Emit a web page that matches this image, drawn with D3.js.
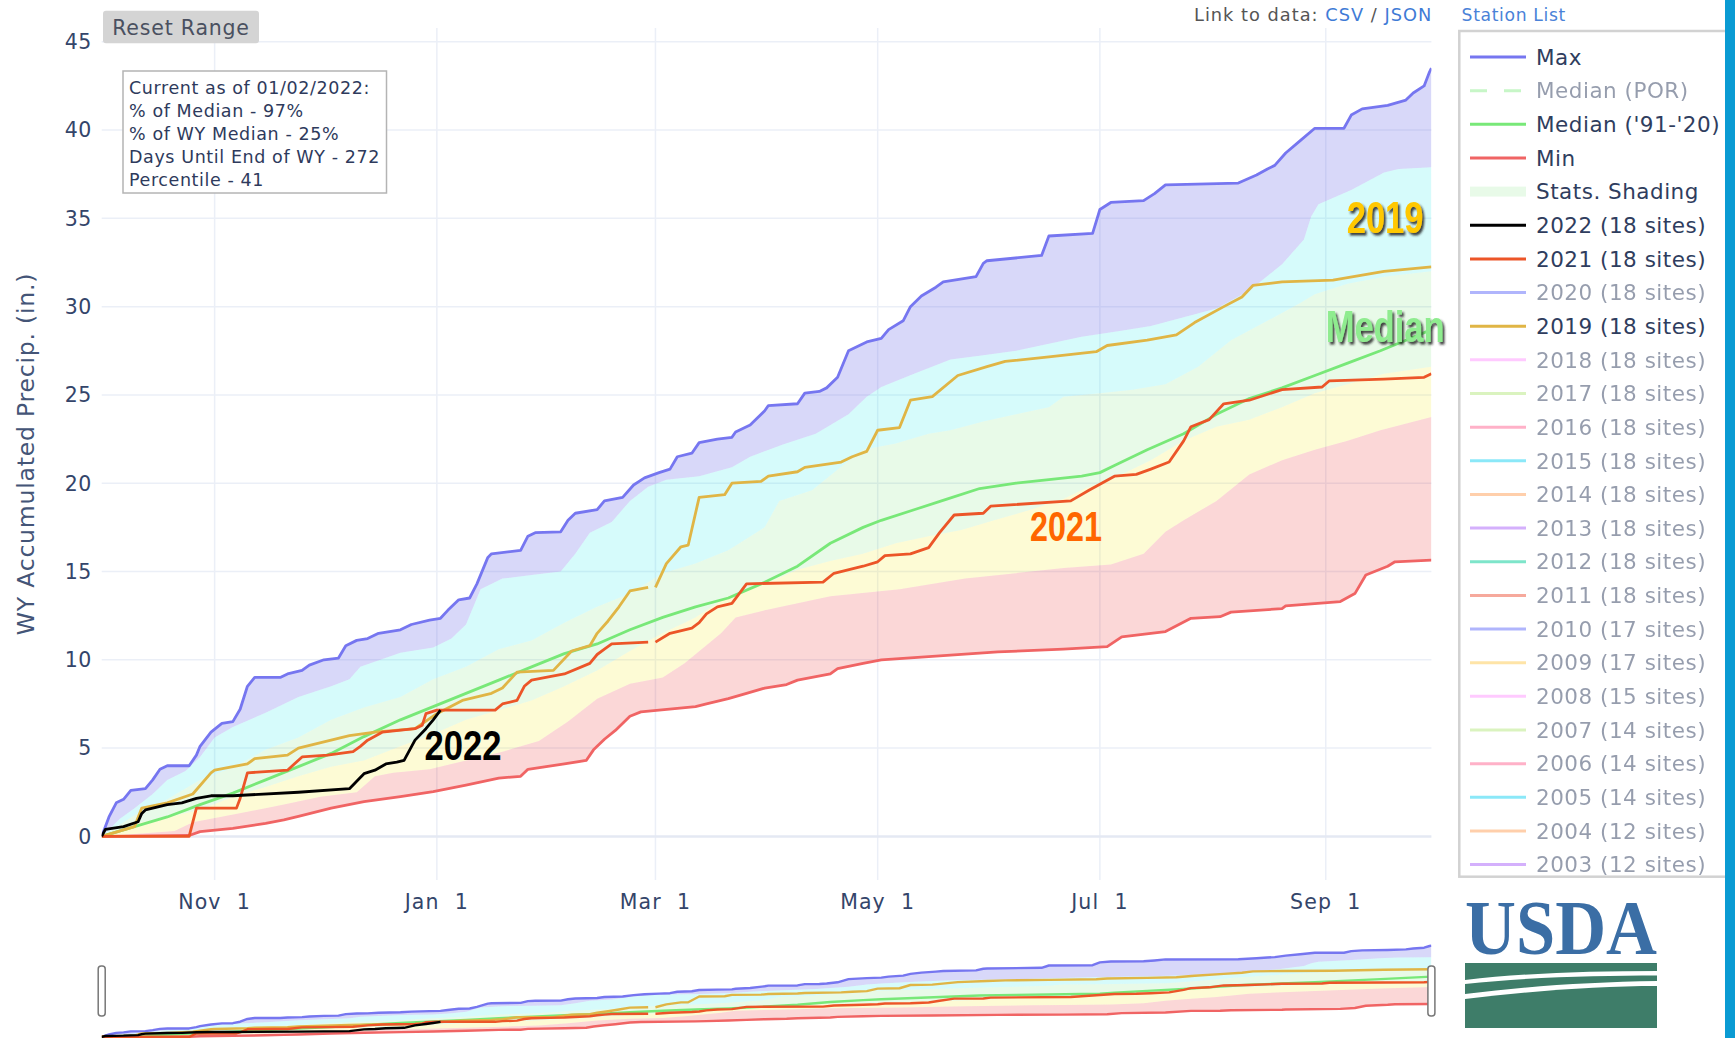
<!DOCTYPE html>
<html>
<head>
<meta charset="utf-8">
<script src="https://cdn.jsdelivr.net/npm/d3@7.9.0/dist/d3.min.js"></script>
<style>
  body { margin: 0; background: #fff; }
  svg text { font-family: "DejaVu Sans", Verdana, sans-serif; }
</style>
</head>
<body>
<svg id="chart" width="1735" height="1038"></svg>
<script>
// values are [day since Oct 1, inches]; the axis year is a leap water year, so day 151 = Feb 29
const maxPrecip = [[0,0],[2,1.1],[4,1.9],[6,2.1],[8,2.6],[12,2.7],[14,3.2],[16,3.8],[18,4.0],[24,4.0],[26,4.6],[27,5.1],[30,5.9],[33,6.4],[36,6.5],[38,7.2],[40,8.5],[42,9.0],[49,9.0],[51,9.2],[55,9.4],[57,9.7],[61,10.0],[65,10.1],[67,10.8],[70,11.1],[73,11.2],[76,11.5],[82,11.7],[85,12.0],[90,12.25],[93,12.35],[95,12.8],[98,13.4],[101,13.5],[103,14.3],[106,15.8],[107,16.0],[115,16.2],[117,17.0],[119,17.2],[126,17.25],[128,17.9],[130,18.3],[136,18.5],[138,19.0],[143,19.2],[146,19.9],[149,20.3],[153,20.6],[156,20.8],[158,21.5],[162,21.7],[164,22.3],[169,22.5],[173,22.6],[174,22.9],[178,23.3],[182,24.1],[183,24.4],[191,24.5],[193,25.1],[197,25.2],[199,25.4],[202,26.0],[205,27.5],[210,28.0],[214,28.2],[216,28.7],[220,29.2],[222,30.0],[225,30.6],[229,31.1],[231,31.4],[240,31.7],[242,32.45],[243,32.6],[258,32.9],[260,34.0],[272,34.15],[274,35.5],[277,35.9],[286,36.0],[289,36.4],[292,36.9],[312,37.0],[317,37.45],[320,37.8],[322,38.0],[325,38.7],[329,39.4],[333,40.1],[341,40.1],[343,40.85],[346,41.2],[353,41.4],[358,41.7],[360,42.1],[363,42.5],[364.5,43.3],[365,43.5]];
const p90 = [[0,0],[5,1.0],[9,1.6],[14,2.4],[18,3.2],[23,3.7],[27,4.5],[31,5.6],[36,6.2],[45,7.0],[54,7.9],[63,8.5],[68,8.9],[71,9.6],[82,10.4],[91,10.7],[96,11.2],[100,12.0],[104,14.0],[110,14.6],[118,14.8],[126,15.0],[130,16.0],[134,17.2],[140,17.8],[145,19.0],[150,19.8],[155,20.2],[164,20.4],[173,20.9],[178,21.5],[187,22.2],[196,22.8],[205,23.9],[210,24.9],[214,25.45],[223,26.2],[233,27.0],[242,27.25],[251,27.5],[260,27.9],[269,28.3],[279,28.6],[288,28.9],[297,29.4],[306,29.9],[315,30.9],[324,32.4],[330,33.8],[332,35.1],[334,35.8],[343,36.6],[352,37.6],[356,37.8],[365,37.9]];
const p70 = [[0,0],[9,1.2],[18,2.1],[27,3.2],[36,3.9],[45,4.9],[54,5.6],[63,6.6],[72,7.3],[82,7.9],[91,8.9],[100,9.6],[109,10.6],[118,11.1],[127,12.1],[136,13.0],[145,13.75],[154,14.9],[163,15.45],[172,16.2],[182,17.5],[186,19.0],[195,19.6],[204,21.1],[209,21.9],[218,22.25],[227,22.8],[233,23.0],[242,23.5],[251,23.9],[260,24.3],[264,24.9],[274,25.1],[283,25.3],[292,25.6],[301,26.6],[310,28.1],[320,29.2],[329,30.2],[333,30.7],[342,31.3],[352,31.7],[365,32.0]];
const p30 = [[0,0],[9,0.7],[18,1.1],[27,1.5],[36,2.25],[45,2.8],[54,3.4],[63,3.95],[72,4.3],[82,5.1],[91,5.8],[100,6.6],[109,7.15],[118,7.7],[127,8.5],[136,9.4],[145,10.5],[154,11.5],[163,12.4],[172,13.6],[182,14.3],[191,15.1],[200,15.6],[209,16.0],[218,16.6],[227,17.0],[236,17.35],[245,17.9],[255,18.5],[264,19.1],[270,19.7],[279,20.4],[288,21.3],[297,22.4],[306,23.2],[315,23.6],[324,24.3],[333,25.1],[342,25.6],[352,26.2],[365,26.6]];
const p10 = [[0,0],[10,0.15],[20,0.3],[25,0.8],[30,1.0],[40,1.4],[50,1.8],[60,2.25],[70,2.5],[75,3.4],[80,3.6],[90,3.8],[100,4.3],[110,4.8],[120,5.4],[128,6.5],[136,7.8],[145,8.65],[154,9.0],[160,9.8],[170,11.5],[174,12.4],[182,12.8],[191,13.2],[200,13.6],[219,14.0],[237,14.6],[255,15.0],[264,15.2],[277,15.4],[286,16.0],[292,17.25],[297,17.9],[306,19.0],[315,20.5],[324,21.3],[333,21.9],[342,22.4],[351,23.0],[365,23.75]];
const minPrecip = [[0,0],[24,0.05],[27,0.27],[36,0.45],[45,0.74],[50,0.93],[54,1.13],[63,1.6],[72,1.97],[82,2.25],[91,2.53],[100,2.9],[109,3.3],[115,3.4],[117,3.8],[127,4.1],[133,4.3],[135,4.9],[138,5.5],[141,6.0],[145,6.8],[148,7.05],[163,7.35],[166,7.5],[172,7.8],[177,8.1],[182,8.4],[188,8.6],[191,8.85],[200,9.2],[202,9.5],[209,9.8],[214,10.0],[228,10.2],[246,10.45],[264,10.6],[276,10.75],[280,11.3],[292,11.6],[299,12.35],[307,12.44],[310,12.7],[324,12.9],[325,13.05],[340,13.3],[344,13.75],[347,14.8],[353,15.3],[355,15.55],[365,15.65]];
const median9120 = [[0,0],[9,0.55],[18,1.1],[27,1.8],[36,2.45],[45,3.2],[54,3.95],[63,4.7],[72,5.65],[82,6.6],[91,7.35],[100,8.1],[109,8.85],[118,9.6],[127,10.35],[136,10.9],[145,11.7],[154,12.4],[163,13.0],[172,13.5],[181,14.3],[191,15.3],[200,16.6],[209,17.5],[214,17.9],[223,18.5],[232,19.1],[241,19.7],[251,20.0],[260,20.2],[269,20.4],[274,20.6],[278,21.0],[287,21.9],[297,22.8],[306,23.9],[315,24.8],[324,25.4],[333,26.1],[342,26.8],[351,27.5],[358,28.1],[365,28.7]];
const wy2019 = [[0,0],[9,0.55],[11,1.6],[18,1.9],[25,2.4],[30,3.6],[31,3.75],[40,4.1],[42,4.4],[51,4.6],[54,5.0],[68,5.7],[75,5.9],[86,6.1],[92,6.95],[99,7.7],[107,8.1],[110,8.4],[114,9.3],[124,9.4],[129,10.5],[134,10.8],[136,11.5],[139,12.2],[142,13.0],[145,13.9],[150,14.1],[151,null],[152,14.1],[155,15.45],[159,16.4],[161,16.5],[164,19.2],[171,19.35],[173,20.0],[181,20.1],[183,20.4],[191,20.65],[193,20.9],[203,21.2],[206,21.5],[210,21.8],[213,23.0],[219,23.15],[222,24.7],[228,24.9],[235,26.1],[243,26.6],[248,26.9],[260,27.15],[273,27.45],[276,27.8],[287,28.1],[295,28.4],[300,29.1],[308,30.0],[313,30.55],[316,31.2],[324,31.4],[338,31.5],[352,32.0],[365,32.25]];
const wy2021 = [[0,0],[24,0],[26,1.6],[37,1.6],[38,2.15],[40,3.6],[47,3.7],[51,3.75],[55,4.5],[62,4.6],[69,4.8],[71,5.1],[73,5.45],[77,5.9],[86,6.1],[88,6.3],[89,6.95],[92,7.15],[108,7.15],[110,7.5],[114,7.7],[116,8.5],[118,8.85],[123,9.05],[127,9.2],[134,9.8],[136,10.3],[138,10.6],[140,10.9],[150,11.0],[151,null],[152,11.0],[156,11.5],[162,11.8],[164,12.1],[166,12.6],[169,13.0],[173,13.2],[177,14.3],[198,14.4],[201,14.9],[209,15.3],[213,15.55],[215,15.9],[222,16.0],[227,16.35],[230,17.2],[234,18.2],[242,18.3],[244,18.7],[266,19.0],[271,19.6],[278,20.4],[284,20.5],[288,20.8],[293,21.2],[297,22.4],[299,23.2],[304,23.6],[308,24.5],[315,24.7],[324,25.3],[335,25.45],[337,25.8],[352,25.9],[363,26.0],[365,26.2]];
const wy2022 = [[0,0],[1,0.4],[6,0.55],[10,0.83],[11,1.3],[12,1.5],[18,1.8],[22,1.9],[26,2.15],[30,2.3],[36,2.3],[54,2.5],[68,2.7],[72,3.55],[75,3.75],[78,4.1],[81,4.2],[83,4.3],[86,5.45],[89,6.1],[91,6.6],[93,7.15]];

const yTicks = [0, 5, 10, 15, 20, 25, 30, 35, 40, 45];
const xTickDates = ['2019-11-01', '2020-01-01', '2020-03-01', '2020-05-01', '2020-07-01', '2020-09-01'];

const seasonYears = [2022, 2021, 2020, 2019, 2018, 2017, 2016, 2015, 2014, 2013, 2012, 2011, 2010, 2009, 2008, 2007, 2006, 2005, 2004, 2003];
const siteCounts  = [18, 18, 18, 18, 18, 18, 18, 18, 18, 18, 18, 18, 17, 17, 15, 14, 14, 14, 12, 12];
const yearColors  = ['#000000', '#ec5528', '#636efa', '#e0b545', '#ff97ff', '#b6e880', '#ff6692', '#19d3f3', '#ffa15a', '#ab63fa',
                     '#00cc96', '#ef553b', '#636efa', '#fecb52', '#ff97ff', '#b6e880', '#ff6692', '#19d3f3', '#ffa15a', '#ab63fa'];
const shownYears  = [2022, 2021, 2019];

const infoLines = ['Current as of 01/02/2022:', '% of Median - 97%', '% of WY Median - 25%', 'Days Until End of WY - 272', 'Percentile - 41'];

const svg = d3.select('#chart');
const start = Date.UTC(2019, 9, 1);
const dayToDate = d => new Date(start + d * 864e5);

const x = d3.scaleUtc().domain([dayToDate(0), dayToDate(365)]).range([101.7, 1431.4]);
const y = d3.scaleLinear().domain([-2.47, 45.78]).range([880, 28]);
const ySlider = d3.scaleLinear().domain([-2.47, 45.78]).range([1042, 940.8]);

const defs = svg.append('defs');
defs.append('clipPath').attr('id', 'clipMain').append('rect')
    .attr('x', x.range()[0]).attr('y', 28).attr('width', x.range()[1] - x.range()[0]).attr('height', 852);
defs.append('clipPath').attr('id', 'clipSlider').append('rect')
    .attr('x', x.range()[0]).attr('y', 940).attr('width', x.range()[1] - x.range()[0]).attr('height', 100);
defs.append('filter').attr('id', 'shadow').attr('x', '-10%').attr('y', '-10%').attr('width', '130%').attr('height', '150%')
    .append('feDropShadow').attr('dx', 2).attr('dy', 2.5).attr('stdDeviation', 1.1)
    .attr('flood-color', '#1a1a1a').attr('flood-opacity', 0.85);

// grid
const grid = svg.append('g');
grid.selectAll('.vgrid').data(xTickDates).join('line')
    .attr('x1', d => x(new Date(d))).attr('x2', d => x(new Date(d)))
    .attr('y1', 28).attr('y2', 880)
    .attr('stroke', '#ebeff7').attr('stroke-width', 1.5);
grid.selectAll('.hgrid').data(yTicks).join('line')
    .attr('x1', x.range()[0]).attr('x2', x.range()[1])
    .attr('y1', d => y(d)).attr('y2', d => y(d))
    .attr('stroke', d => d === 0 ? '#e4e9f3' : '#ebeff7').attr('stroke-width', d => d === 0 ? 2.5 : 1.5);

const bands = [
  { upper: maxPrecip, lower: p90, fill: 'rgba(100,100,230,0.25)' },
  { upper: p90, lower: p70, fill: 'rgba(0,230,230,0.16)' },
  { upper: p70, lower: p30, fill: 'rgba(0,200,0,0.09)' },
  { upper: p30, lower: p10, fill: 'rgba(240,230,0,0.165)' },
  { upper: p10, lower: minPrecip, fill: 'rgba(230,0,0,0.157)' }
];

const traces = [
  { data: minPrecip, color: '#f06464' },
  { data: maxPrecip, color: '#7676f0' },
  { data: median9120, color: '#78e878' },
  { data: wy2019, color: yearColors[seasonYears.indexOf(2019)] },
  { data: wy2021, color: yearColors[seasonYears.indexOf(2021)] },
  { data: wy2022, color: yearColors[seasonYears.indexOf(2022)] }
];

function drawPlot(g, ys, lw) {
  const line = d3.line()
      .defined(d => d[1] != null)
      .x(d => x(dayToDate(d[0])))
      .y(d => ys(d[1]));
  g.selectAll('path.band').data(bands).join('path')
      .attr('class', 'band')
      .attr('d', b => line(b.upper.concat(b.lower.slice().reverse())) + 'Z')
      .attr('fill', b => b.fill);
  g.selectAll('path.trace').data(traces).join('path')
      .attr('class', 'trace')
      .attr('d', t => line(t.data))
      .attr('fill', 'none')
      .attr('stroke', t => t.color)
      .attr('stroke-width', lw)
      .attr('stroke-linejoin', 'round');
}

drawPlot(svg.append('g').attr('clip-path', 'url(#clipMain)'), y, 2.8);
drawPlot(svg.append('g').attr('clip-path', 'url(#clipSlider)'), ySlider, 2.4);

// axes labels
svg.append('g').selectAll('text').data(yTicks).join('text')
    .attr('x', 92).attr('y', d => y(d)).attr('dy', '0.36em')
    .attr('text-anchor', 'end').attr('font-size', 20.5).attr('letter-spacing', 0.6).attr('fill', '#34456a')
    .text(d => d);
const fmt = d3.utcFormat('%b %e');
svg.append('g').selectAll('text').data(xTickDates).join('text')
    .attr('x', d => x(new Date(d))).attr('y', 909)
    .attr('text-anchor', 'middle').attr('font-size', 20.5).attr('letter-spacing', 1.1).attr('fill', '#34456a')
    .style('white-space', 'pre')
    .text(d => fmt(new Date(d)));
svg.append('text')
    .attr('transform', 'translate(34,454) rotate(-90)')
    .attr('text-anchor', 'middle').attr('font-size', 23.5).attr('letter-spacing', 0.8).attr('fill', '#445577')
    .text('WY Accumulated Precip. (in.)');

// series labels
const labels = [
  { text: '2022', day: 99.2, val: 5.2, color: '#000000', w: 77, size: 42, shadow: false },
  { text: '2021', day: 264.7, val: 17.6, color: '#ff6600', w: 72, size: 42, shadow: false },
  { text: '2019', day: 352.3, val: 35.05, color: '#ffc800', w: 77, size: 44, shadow: true },
  { text: 'Median', day: 352.3, val: 28.9, color: '#8fec8f', w: 119, size: 44, shadow: true }
];
svg.append('g').selectAll('text').data(labels).join('text')
    .attr('x', d => x(dayToDate(d.day)) - d.w / 2)
    .attr('y', d => y(d.val) + d.size * 0.36)
    .attr('textLength', d => d.w).attr('lengthAdjust', 'spacingAndGlyphs')
    .attr('font-size', d => d.size).attr('font-weight', 'bold')
    .style('font-family', '"Liberation Sans Narrow", "Liberation Sans", Arial, sans-serif')
    .attr('fill', d => d.color)
    .attr('filter', d => d.shadow ? 'url(#shadow)' : null)
    .text(d => d.text);

// info box
const info = svg.append('g');
info.append('rect').attr('x', 123).attr('y', 71).attr('width', 263.5).attr('height', 122)
    .attr('fill', '#fff').attr('stroke', '#b4b4b4').attr('stroke-width', 1.5);
info.selectAll('text').data(infoLines).join('text')
    .attr('x', 129).attr('y', (d, i) => 87 + i * 23 + 6.5)
    .attr('font-size', 17.5).attr('letter-spacing', 0.6).attr('fill', '#2e3a5c')
    .text(d => d);

// reset range button
svg.append('rect').attr('x', 103).attr('y', 10.7).attr('width', 156).attr('height', 32.6)
    .attr('rx', 3).attr('fill', '#d4d4d4');
svg.append('text').attr('x', 181).attr('y', 34.5).attr('text-anchor', 'middle')
    .attr('font-size', 20.5).attr('letter-spacing', 0.8).attr('fill', '#4a5060').text('Reset Range');

// links
const link = svg.append('text').attr('x', 1194).attr('y', 21).attr('font-size', 17.8).attr('letter-spacing', 1.0);
link.append('tspan').attr('fill', '#555').text('Link to data: ');
link.append('tspan').attr('fill', '#3f7bd6').text('CSV');
link.append('tspan').attr('fill', '#555').text(' / ');
link.append('tspan').attr('fill', '#3f7bd6').text('JSON');
svg.append('text').attr('x', 1461.6).attr('y', 21).attr('font-size', 17.2).attr('letter-spacing', 0.65)
    .attr('fill', '#4a82d8').text('Station List');

// legend
const legendItems = [
  { name: 'Max', color: '#7676f0', on: true, kind: 'line' },
  { name: 'Median (POR)', color: '#90ee90', on: false, kind: 'dash' },
  { name: "Median ('91-'20)", color: '#78e878', on: true, kind: 'line' },
  { name: 'Min', color: '#f06464', on: true, kind: 'line' },
  { name: 'Stats. Shading', color: 'rgba(0,200,0,0.09)', on: true, kind: 'rect' }
].concat(seasonYears.map((yr, i) => ({
  name: `${yr} (${siteCounts[i]} sites)`, color: yearColors[i], on: shownYears.includes(yr), kind: 'line'
})));

svg.append('rect').attr('x', 1459.3).attr('y', 31).attr('width', 280).attr('height', 845.7)
    .attr('fill', '#fff').attr('stroke', '#d2d2d2').attr('stroke-width', 2.5);
const li = svg.append('g').selectAll('g').data(legendItems).join('g')
    .attr('transform', (d, i) => `translate(0,${57 + i * 33.65})`)
    .attr('opacity', d => d.on ? 1 : 0.5);
li.filter(d => d.kind !== 'rect').append('line')
    .attr('x1', 1470).attr('x2', 1526).attr('y1', 0).attr('y2', 0)
    .attr('stroke', d => d.color).attr('stroke-width', 3)
    .attr('stroke-dasharray', d => d.kind === 'dash' ? '17,17' : null);
li.filter(d => d.kind === 'rect').append('rect')
    .attr('x', 1470).attr('y', -5).attr('width', 56).attr('height', 10).attr('fill', d => d.color);
li.append('text').attr('x', 1536).attr('y', 7.7).attr('font-size', 21.5).attr('letter-spacing', 0.5)
    .attr('fill', '#2f3d5e').text(d => d.name);

// right border bar
svg.append('rect').attr('x', 1725).attr('y', 0).attr('width', 10).attr('height', 1038).attr('fill', '#0a9bd3');

// range slider handles
svg.append('g').selectAll('rect').data(x.range()).join('rect')
    .attr('x', d => d - 3.5).attr('y', 966).attr('width', 7).attr('height', 50)
    .attr('rx', 3).attr('fill', '#fff').attr('stroke', '#777').attr('stroke-width', 1.5);

// USDA logo
const logo = svg.append('g');
logo.append('text').attr('x', 1465).attr('y', 954).attr('textLength', 192).attr('lengthAdjust', 'spacingAndGlyphs')
    .attr('font-size', 79).attr('font-weight', 'bold')
    .style('font-family', '"Liberation Serif", "DejaVu Serif", serif')
    .attr('fill', '#3b6ea5').text('USDA');
logo.append('path').attr('fill', '#3e7d69')
    .attr('d', 'M1465,963 H1657 V971 C1590,971 1525,973 1465,980 Z');
logo.append('path').attr('fill', '#3e7d69')
    .attr('d', 'M1465,984 C1530,977 1600,975.5 1657,975.5 V981 C1590,982 1530,986 1465,994 Z');
logo.append('path').attr('fill', '#3e7d69')
    .attr('d', 'M1465,999 C1530,991 1600,986 1657,986 V1028 H1465 Z');
</script>
</body>
</html>
